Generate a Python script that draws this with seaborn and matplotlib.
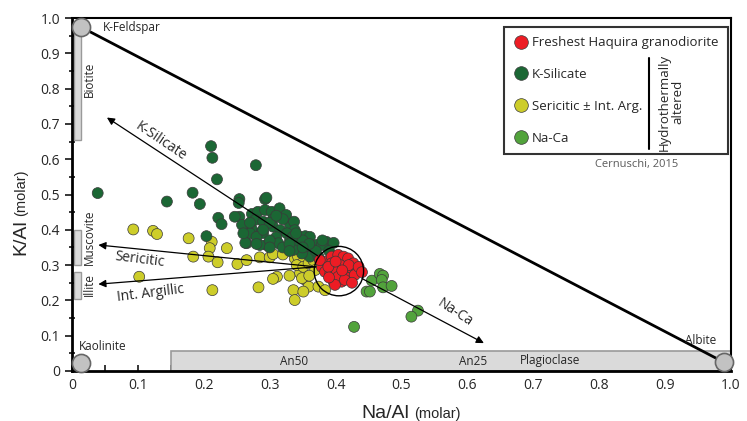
import matplotlib
matplotlib.use('Agg')
import matplotlib.pyplot as plt
import matplotlib.patches as mpatches
import numpy as np
import pandas as pd
import seaborn as sns

# --- data (Na/Al, K/Al molar) ---
ksil_na = [0.039, 0.211, 0.213, 0.220, 0.279, 0.183, 0.194, 0.144, 0.254, 0.253,
           0.293, 0.295, 0.222, 0.227, 0.254, 0.258, 0.273, 0.282, 0.293, 0.303,
           0.315, 0.325, 0.305, 0.278, 0.290, 0.273, 0.270, 0.288, 0.305, 0.316,
           0.331, 0.337, 0.338, 0.326, 0.310, 0.295, 0.313, 0.331, 0.346, 0.354,
           0.361, 0.341, 0.356, 0.371, 0.386, 0.397, 0.204, 0.265, 0.335, 0.354,
           0.366, 0.361, 0.349, 0.374, 0.336, 0.379, 0.247, 0.290, 0.285, 0.263,
           0.300, 0.320, 0.280, 0.300, 0.320, 0.330, 0.350, 0.270, 0.310, 0.290,
           0.340, 0.370, 0.360, 0.390, 0.380, 0.300, 0.260, 0.280, 0.330, 0.350]
ksil_k = [0.504, 0.637, 0.604, 0.543, 0.583, 0.505, 0.473, 0.480, 0.487, 0.476,
          0.487, 0.491, 0.434, 0.416, 0.437, 0.414, 0.445, 0.451, 0.456, 0.451,
          0.461, 0.442, 0.430, 0.428, 0.423, 0.401, 0.390, 0.395, 0.409, 0.399,
          0.414, 0.423, 0.399, 0.390, 0.379, 0.357, 0.362, 0.371, 0.380, 0.382,
          0.380, 0.357, 0.357, 0.357, 0.366, 0.363, 0.382, 0.362, 0.380, 0.348,
          0.343, 0.324, 0.333, 0.324, 0.343, 0.357, 0.437, 0.391, 0.357, 0.363,
          0.420, 0.430, 0.380, 0.370, 0.350, 0.360, 0.370, 0.420, 0.440, 0.400,
          0.390, 0.340, 0.360, 0.340, 0.370, 0.350, 0.390, 0.360, 0.340, 0.350]

seric_na = [0.093, 0.123, 0.129, 0.177, 0.212, 0.209, 0.235, 0.207, 0.184, 0.221,
            0.251, 0.265, 0.285, 0.300, 0.305, 0.338, 0.343, 0.349, 0.102, 0.311,
            0.305, 0.283, 0.213, 0.346, 0.354, 0.359, 0.336, 0.341, 0.351, 0.359,
            0.366, 0.349, 0.351, 0.374, 0.384, 0.338, 0.369, 0.320, 0.330, 0.360]
seric_k = [0.401, 0.397, 0.388, 0.376, 0.366, 0.348, 0.348, 0.324, 0.324, 0.308,
           0.303, 0.314, 0.322, 0.322, 0.331, 0.319, 0.324, 0.305, 0.267, 0.267,
           0.261, 0.237, 0.229, 0.277, 0.258, 0.239, 0.229, 0.300, 0.295, 0.305,
           0.314, 0.263, 0.225, 0.239, 0.229, 0.201, 0.286, 0.330, 0.270, 0.270]

naca_na = [0.455, 0.447, 0.452, 0.467, 0.472, 0.470, 0.472, 0.485, 0.525, 0.515, 0.428]
naca_k = [0.256, 0.225, 0.225, 0.275, 0.270, 0.258, 0.237, 0.241, 0.171, 0.154, 0.125]

fresh_na = [0.379, 0.386, 0.394, 0.404, 0.412, 0.419, 0.427, 0.432, 0.424, 0.417,
            0.407, 0.394, 0.384, 0.392, 0.402, 0.412, 0.419, 0.409, 0.397, 0.404,
            0.429, 0.376, 0.389, 0.414, 0.399, 0.420, 0.400, 0.435, 0.410, 0.390,
            0.425, 0.440]
fresh_k = [0.295, 0.310, 0.324, 0.329, 0.324, 0.319, 0.305, 0.286, 0.286, 0.291,
           0.300, 0.305, 0.281, 0.277, 0.281, 0.272, 0.263, 0.253, 0.253, 0.267,
           0.272, 0.314, 0.295, 0.258, 0.244, 0.300, 0.310, 0.295, 0.285, 0.265,
           0.250, 0.280]

groups = ['Freshest Haquira granodiorite', 'K-Silicate', 'Sericitic \u00b1 Int. Arg.', 'Na-Ca']
colors = ['#ed1c24', '#1b6734', '#cdcd2a', '#52a33c']

# end members (K-Feldspar, Kaolinite, Albite)
end_na = [0.013, 0.013, 0.989]
end_k = [0.975, 0.024, 0.025]

df = pd.concat([
    pd.DataFrame({'na': seric_na, 'k': seric_k, 'group': groups[2]}),
    pd.DataFrame({'na': ksil_na, 'k': ksil_k, 'group': groups[1]}),
    pd.DataFrame({'na': naca_na, 'k': naca_k, 'group': groups[3]}),
    pd.DataFrame({'na': fresh_na, 'k': fresh_k, 'group': groups[0]}),
], ignore_index=True)

sns.set_theme(style='white')
plt.rcParams['font.family'] = ['Open Sans', 'DejaVu Sans']

fig = plt.figure(figsize=(7.47, 4.21), dpi=100)
ax = fig.add_axes([72 / 747, 50 / 421, 659 / 747, 353 / 421])
ax.set_xlim(0, 1)
ax.set_ylim(0, 1)

gray_fc = '#dadada'
gray_ec = '#9a9a9a'
# mineral composition bars
ax.add_patch(mpatches.Rectangle((0.003, 0.655), 0.011, 0.32, fc=gray_fc, ec=gray_ec, lw=1, zorder=1))
ax.add_patch(mpatches.Rectangle((0.003, 0.30), 0.011, 0.10, fc=gray_fc, ec=gray_ec, lw=1, zorder=1))
ax.add_patch(mpatches.Rectangle((0.003, 0.205), 0.011, 0.075, fc=gray_fc, ec=gray_ec, lw=1, zorder=1))
ax.add_patch(mpatches.Rectangle((0.15, 0.0), 0.85, 0.058, fc=gray_fc, ec=gray_ec, lw=1.2, zorder=1))

# K-feldspar -> albite join
ax.plot([end_na[0], end_na[2]], [end_k[0], end_k[2]], color='black', lw=2, zorder=2)
ax.scatter(end_na, end_k, s=170, fc='#c2c2c2', ec='#666666', lw=1.2, zorder=5, clip_on=False)

sns.scatterplot(data=df, x='na', y='k', hue='group', hue_order=groups,
                palette=dict(zip(groups, colors)), s=62, edgecolor='#3a3a3a',
                linewidth=0.5, ax=ax, zorder=3)

ax.add_patch(mpatches.Ellipse((0.405, 0.283), 0.075, 0.14, fill=False, ec='black', lw=1, zorder=4))

arrow_kw = dict(arrowstyle='-|>', color='black', lw=0.9, mutation_scale=11, shrinkA=0, shrinkB=0)
ax.annotate('', xy=(0.053, 0.718), xytext=(0.373, 0.326), arrowprops=arrow_kw, zorder=4)
ax.annotate('', xy=(0.625, 0.079), xytext=(0.440, 0.262), arrowprops=arrow_kw, zorder=4)
ax.annotate('', xy=(0.040, 0.357), xytext=(0.370, 0.295), arrowprops=arrow_kw, zorder=4)
ax.annotate('', xy=(0.040, 0.246), xytext=(0.370, 0.295), arrowprops=arrow_kw, zorder=4)

fs = 10
ax.text(0.134, 0.649, 'K-Silicate', rotation=-34, ha='center', va='center', fontsize=fs)
ax.text(0.102, 0.317, 'Sericitic', rotation=-7, ha='center', va='center', fontsize=fs)
ax.text(0.120, 0.221, 'Int. Argillic', rotation=7, ha='center', va='center', fontsize=fs)
ax.text(0.581, 0.164, 'Na-Ca', rotation=-33, ha='center', va='center', fontsize=fs)

ms = 8.5
ax.text(0.047, 0.972, 'K-Feldspar', ha='left', va='center', fontsize=ms)
ax.text(0.011, 0.069, 'Kaolinite', ha='left', va='center', fontsize=ms)
ax.text(0.978, 0.085, 'Albite', ha='right', va='center', fontsize=ms)
ax.text(0.026, 0.827, 'Biotite', rotation=90, ha='center', va='center', fontsize=ms)
ax.text(0.026, 0.380, 'Muscovite', rotation=90, ha='center', va='center', fontsize=ms)
ax.text(0.026, 0.246, 'Illite', rotation=90, ha='center', va='center', fontsize=ms)
ax.text(0.337, 0.026, 'An50', ha='center', va='center', fontsize=ms)
ax.text(0.609, 0.026, 'An25', ha='center', va='center', fontsize=ms)
ax.text(0.725, 0.030, 'Plagioclase', ha='center', va='center', fontsize=ms)

# legend
handles, labels = ax.get_legend_handles_labels()
leg = ax.legend(handles, labels, loc='upper right', bbox_to_anchor=(0.995, 0.975),
                frameon=True, fancybox=False, edgecolor='black', fontsize=9.5,
                labelspacing=1.42, handletextpad=0.2, handlelength=1.2,
                borderpad=0.72, borderaxespad=0, markerscale=1.25)
leg.get_frame().set_linewidth(1.5)
leg.set_zorder(6)
ax.plot([0.876, 0.876], [0.630, 0.887], color='black', lw=1.5, zorder=7)
ax.text(0.909, 0.762, 'Hydrothermally\naltered', rotation=90, ha='center', va='center',
        multialignment='center', fontsize=9.5, zorder=7, linespacing=1.1)
ax.text(0.857, 0.584, 'Cernuschi, 2015', ha='center', va='center', fontsize=8, color='#5a5a5a')

# axes styling
ticks = np.round(np.arange(0, 1.01, 0.1), 1)
ticklabels = ['0'] + [f'{t:.1f}' for t in ticks[1:]]
ax.set_xticks(ticks)
ax.set_xticklabels(ticklabels)
ax.set_yticks(ticks)
ax.set_yticklabels(ticklabels)
ax.set_xticks(np.arange(0.05, 1.0, 0.1), minor=True)
ax.set_yticks(np.arange(0.05, 1.0, 0.1), minor=True)
ax.tick_params(axis='x', which='both', direction='in', length=4, width=1.3, labelsize=10, pad=5, bottom=True)
ax.tick_params(axis='y', which='major', direction='out', length=5, width=1.3, labelsize=10, left=True)
ax.tick_params(axis='y', which='minor', direction='inout', length=5, width=1.3, left=True)
for side in ['left', 'bottom']:
    ax.spines[side].set_linewidth(2)
    ax.spines[side].set_color('black')
for side in ['top', 'right']:
    ax.spines[side].set_linewidth(1.5)
    ax.spines[side].set_color('black')
ax.set_xlabel('')
ax.set_ylabel('')
ax.grid(False)

lab_font = ['Liberation Sans', 'DejaVu Sans']
fig.text(409 / 747, 1 - 418 / 421, 'Na/Al', ha='right', va='baseline', fontsize=14, family=lab_font)
fig.text(414 / 747, 1 - 418 / 421, '(molar)', ha='left', va='baseline', fontsize=10.5, family=lab_font)
fig.text(25 / 747, 1 - 219 / 421, 'K/Al', ha='right', va='baseline', rotation=90,
         rotation_mode='anchor', fontsize=14, family=lab_font)
fig.text(25 / 747, 1 - 216 / 421, '(molar)', ha='left', va='baseline', rotation=90,
         rotation_mode='anchor', fontsize=10.5, family=lab_font)

fig.savefig('out.png', dpi=100)
